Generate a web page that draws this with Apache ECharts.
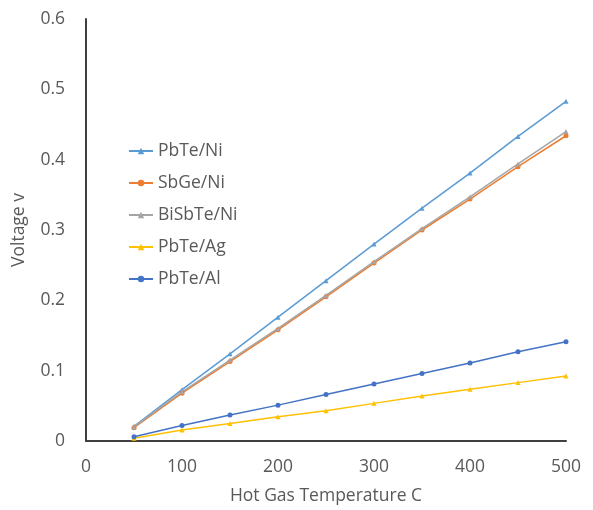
<!DOCTYPE html>
<html><head><meta charset="utf-8">
<script src="https://cdn.jsdelivr.net/npm/echarts@6/dist/echarts.min.js"></script>
<style>html,body{margin:0;padding:0;background:#fff}#c{width:593px;height:510px}</style>
</head><body><div id="c"></div>
<script>
const temps = [50, 100, 150, 200, 250, 300, 350, 400, 450, 500];
const seriesNames = ['PbTe/Ni', 'SbGe/Ni', 'BiSbTe/Ni', 'PbTe/Ag', 'PbTe/Al'];
const pbteNi   = [0.021, 0.073, 0.124, 0.176, 0.228, 0.280, 0.331, 0.381, 0.433, 0.483];
const sbgeNi   = [0.019, 0.068, 0.113, 0.158, 0.205, 0.253, 0.300, 0.344, 0.390, 0.434];
const bisbteNi = [0.020, 0.070, 0.115, 0.160, 0.207, 0.255, 0.302, 0.347, 0.394, 0.440];
const pbteAg   = [0.004, 0.0155, 0.025, 0.0345, 0.043, 0.0535, 0.064, 0.0735, 0.083, 0.0925];
const pbteAl   = [0.006, 0.022, 0.037, 0.051, 0.066, 0.081, 0.096, 0.111, 0.127, 0.141];
const colors = ['#5B9BD5', '#ED7D31', '#A5A5A5', '#FFC000', '#4472C4'];
const values = [pbteNi, sbgeNi, bisbteNi, pbteAg, pbteAl];
const symbols = ['triangle', 'circle', 'triangle', 'triangle', 'circle'];

const FONT = 'Open Sans';
const FS = 17.5;
const chart = echarts.init(document.getElementById('c'));
chart.setOption({
  animation: false,
  color: colors,
  grid: { left: 86, right: 27, top: 19, bottom: 69, containLabel: false },
  legend: {
    orient: 'vertical', left: 123, top: 136, itemGap: 12, itemWidth: 24, itemHeight: 8,
    textStyle: { fontFamily: FONT, fontSize: FS, lineHeight: 20, color: '#595959' },
    data: seriesNames
  },
  xAxis: {
    type: 'value', min: 0, max: 500, interval: 100,
    name: 'Hot Gas Temperature C', nameLocation: 'middle', nameGap: 46,
    nameTextStyle: { fontFamily: FONT, fontSize: FS, color: '#595959' },
    axisLine: { show: true, lineStyle: { color: '#404040', width: 2 } },
    axisTick: { show: false },
    splitLine: { show: false },
    axisLabel: { fontFamily: FONT, fontSize: FS, color: '#595959', margin: 17 }
  },
  yAxis: {
    type: 'value', min: 0, max: 0.6, interval: 0.1,
    name: 'Voltage v', nameLocation: 'middle', nameGap: 58,
    nameTextStyle: { fontFamily: FONT, fontSize: FS, color: '#595959' },
    axisLine: { show: true, lineStyle: { color: '#404040', width: 2 } },
    axisTick: { show: false },
    splitLine: { show: false },
    axisLabel: { fontFamily: FONT, fontSize: FS, color: '#595959', margin: 21 }
  },
  series: seriesNames.map((n, i) => ({
    name: n, type: 'line',
    data: temps.map((t, j) => [t, values[i][j]]),
    symbol: symbols[i], symbolSize: 5,
    lineStyle: { width: 1.5, color: colors[i] },
    itemStyle: { color: colors[i] }
  }))
});
</script></body></html>
